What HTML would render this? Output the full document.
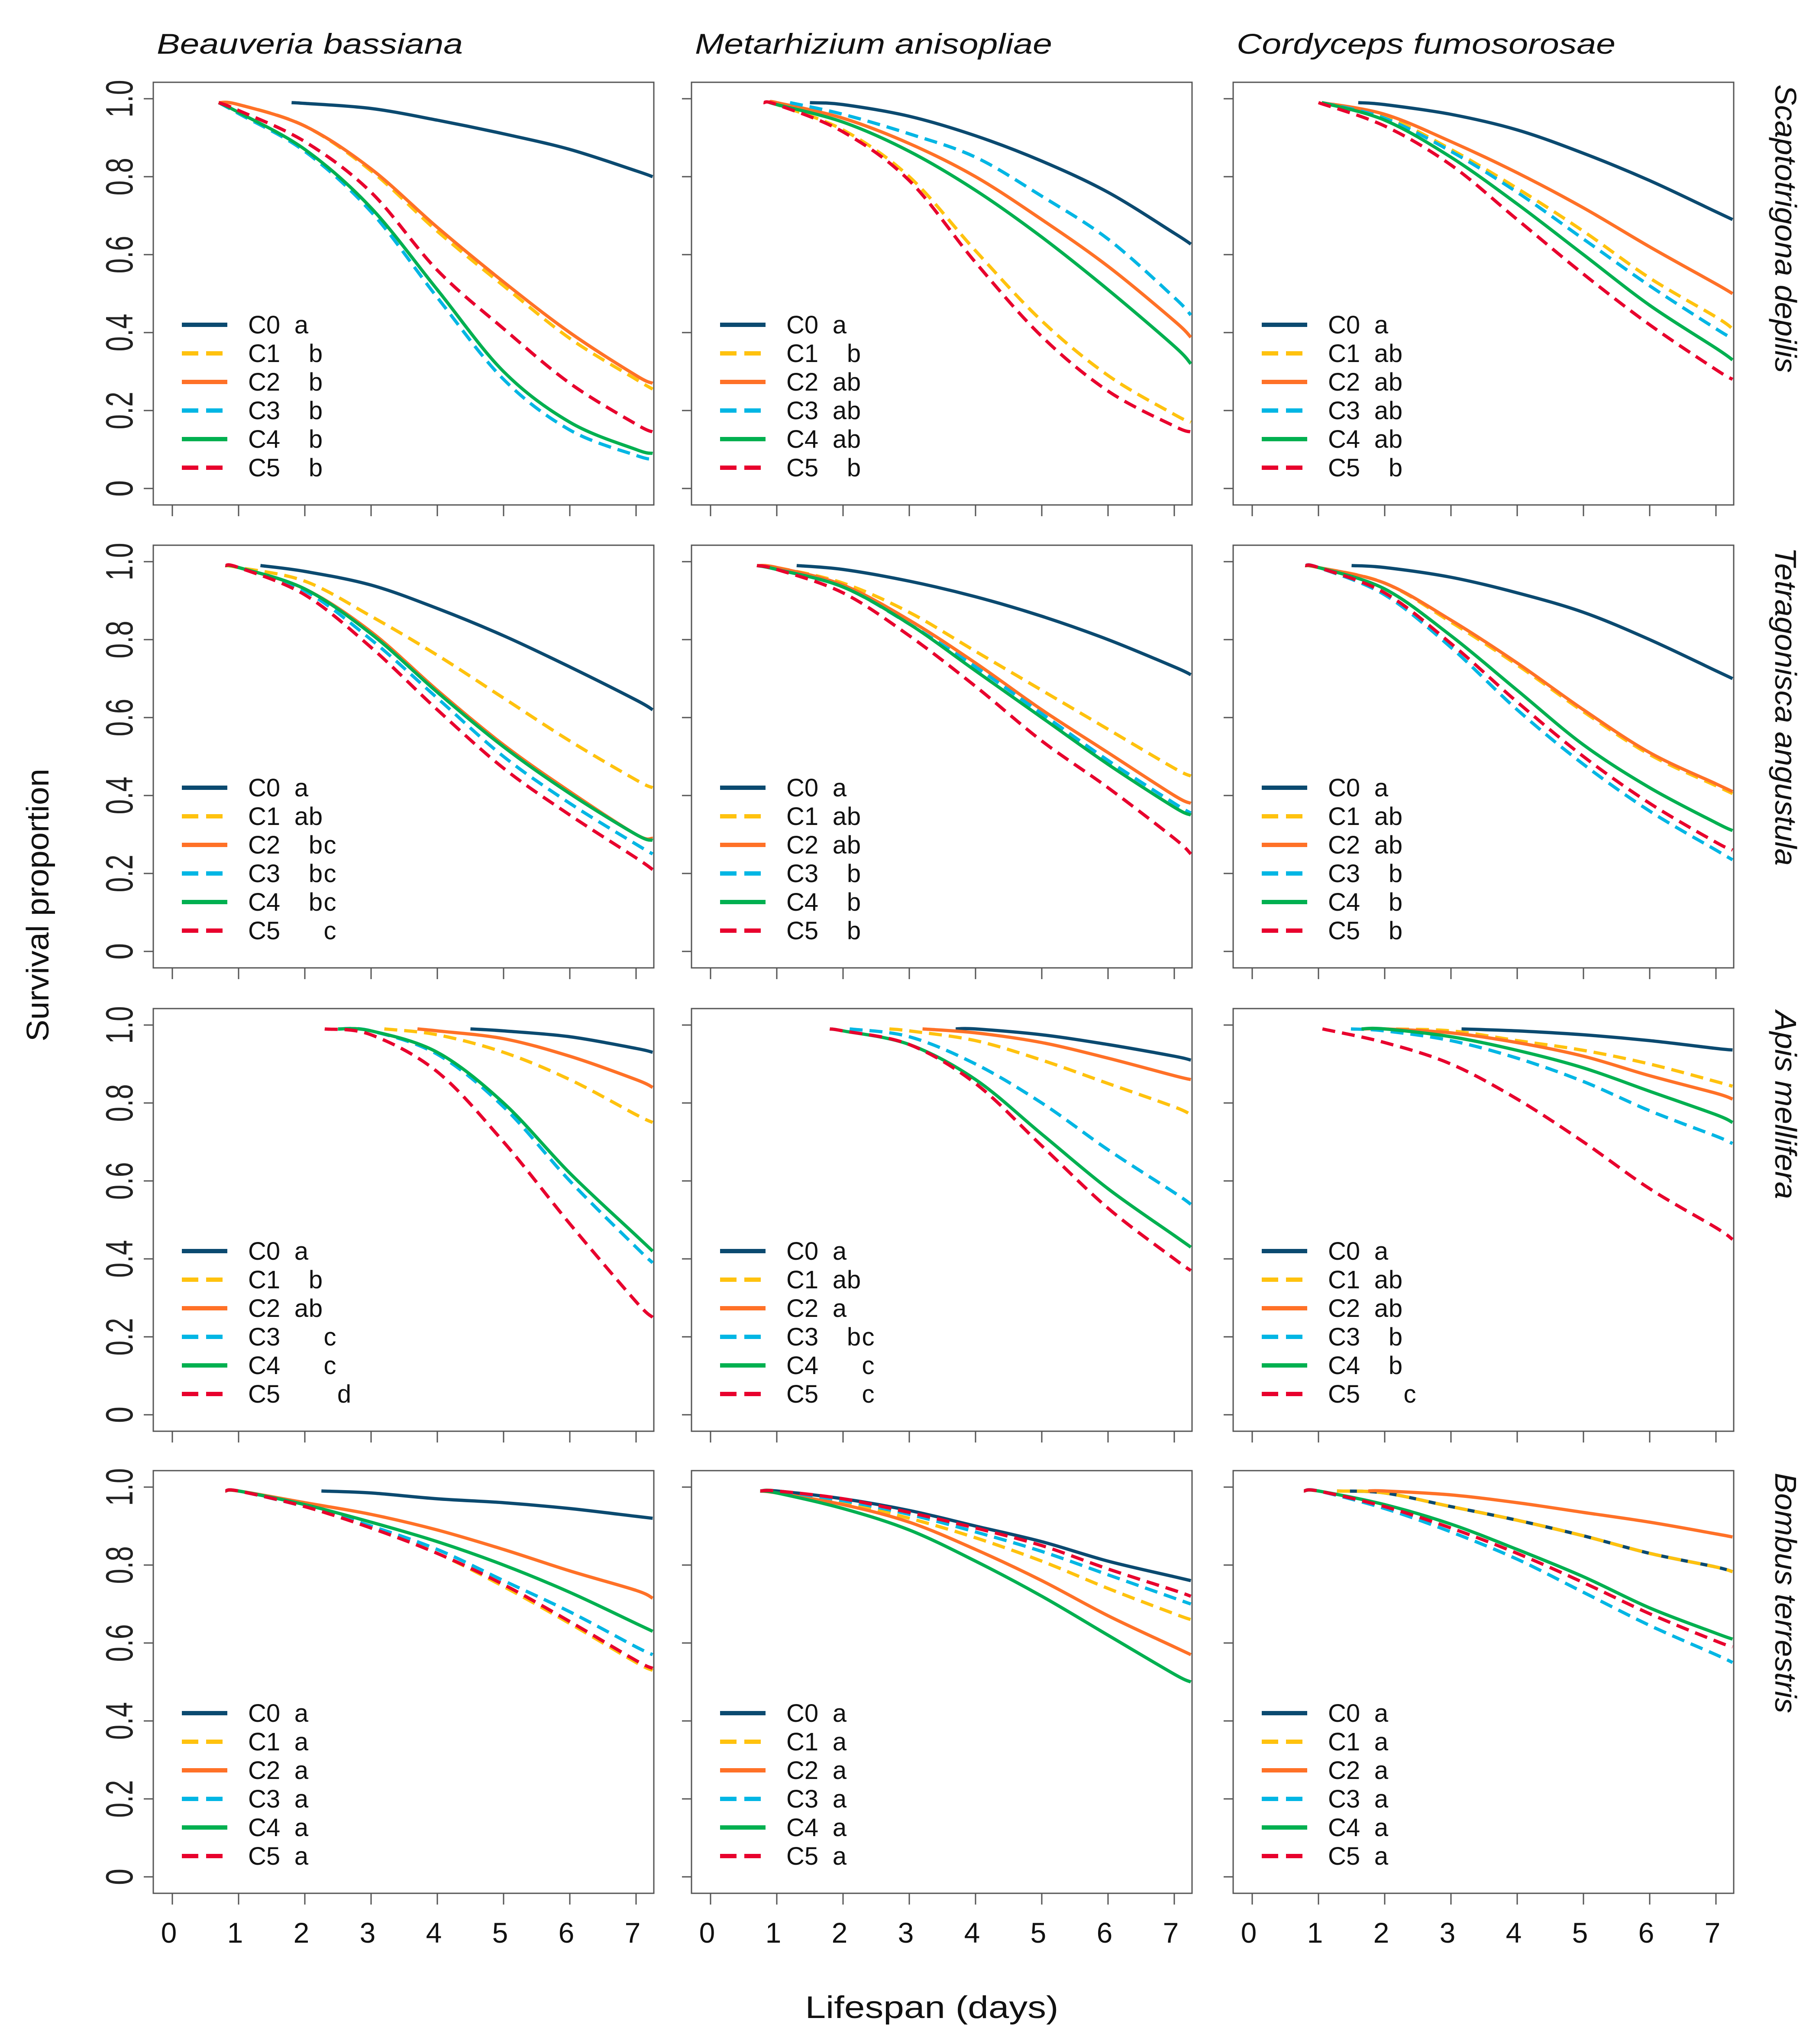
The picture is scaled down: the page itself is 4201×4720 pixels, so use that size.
<!DOCTYPE html>
<html><head><meta charset="utf-8"><style>html,body{margin:0;padding:0;background:#fff}svg{display:block}</style></head>
<body>
<svg id="chart" xmlns="http://www.w3.org/2000/svg" width="4201" height="4720" viewBox="0 0 4201 4720">
<rect width="4201" height="4720" fill="#fff"/>
</svg>
<script>
const gridDays = [1,2,3,4,5,6,7,7.25];
const xTicks = [0,1,2,3,4,5,6,7];
const yTicks = [0,0.2,0.4,0.6,0.8,1.0];
const yTickLabels = ["0","0.2","0.4","0.6","0.8","1.0"];
const seriesNames = ["C0","C1","C2","C3","C4","C5"];
const fungi = ["Beauveria bassiana","Metarhizium anisopliae","Cordyceps fumosorosae"];
const bees = ["Scaptotrigona depilis","Tetragonisca angustula","Apis mellifera","Bombus terrestris"];
const n = null;
// start days per panel (row-major)
const start_r1c1=[1.8,0.7,0.7,0.7,0.7,0.7];
const start_r1c2=[1.5,0.9,0.95,1.2,0.9,0.8];
const start_r1c3=[1.6,1.05,1.05,1.05,1.05,1.0];
const start_r2c1=[1.33,0.8,0.8,0.8,0.8,0.8];
const start_r2c2=[1.3,0.7,0.7,0.7,0.7,0.7];
const start_r2c3=[1.5,0.8,0.8,0.8,0.8,0.8];
const start_r3c1=[4.5,3.2,3.7,2.5,2.5,2.3];
const start_r3c2=[3.7,2.7,3.2,2.1,1.8,1.8];
const start_r3c3=[3.16,1.93,1.68,1.49,1.65,1.06];
const start_r4c1=[2.25,0.8,0.8,0.8,0.8,0.8];
const start_r4c2=[0.75,0.75,0.75,0.75,0.75,0.75];
const start_r4c3=[1.28,1.28,1.75,0.78,0.78,0.78];
// survival values at gridDays per series C0..C5
const surv_r1c1=[[n,.988,.975,.945,.91,.87,.815,.80],[.985,.93,.815,.66,.52,.385,.28,.255],[.985,.93,.82,.67,.53,.40,.29,.27],[.962,.865,.71,.49,.28,.15,.085,.075],[.965,.87,.72,.51,.30,.17,.10,.09],[.97,.89,.76,.56,.41,.27,.165,.145]];
const surv_r1c2=[[n,.985,.955,.905,.84,.76,.655,.627],[.985,.92,.80,.61,.43,.29,.19,.17],[.99,.95,.885,.80,.69,.57,.43,.388],[n,.96,.91,.85,.75,.64,.49,.445],[.985,.94,.865,.765,.645,.51,.365,.32],[.985,.915,.79,.58,.39,.25,.16,.145]];
const surv_r1c3=[[n,.985,.96,.92,.86,.79,.71,.69],[n,.955,.87,.77,.66,.54,.44,.41],[n,.96,.89,.81,.72,.62,.525,.50],[n,.95,.865,.76,.64,.52,.41,.385],[n,.945,.85,.73,.60,.47,.36,.33],[n,.93,.83,.69,.55,.42,.305,.28]];
const surv_r2c1=[[n,.975,.94,.88,.81,.73,.645,.62],[.985,.95,.86,.76,.65,.54,.44,.42],[.985,.93,.82,.67,.53,.41,.30,.29],[.985,.925,.80,.65,.50,.38,.275,.25],[.985,.93,.815,.665,.525,.405,.30,.285],[.985,.915,.78,.62,.47,.35,.24,.21]];
const surv_r2c2=[[n,.98,.95,.91,.86,.80,.73,.71],[.985,.945,.87,.77,.67,.57,.47,.45],[.985,.94,.85,.74,.62,.51,.40,.38],[.98,.935,.84,.73,.61,.49,.38,.355],[.98,.935,.84,.72,.60,.48,.37,.35],[.98,.92,.81,.68,.54,.42,.29,.25]];
const surv_r2c3=[[n,.985,.96,.92,.87,.80,.72,.70],[.985,.945,.845,.735,.615,.505,.425,.405],[.985,.945,.85,.74,.62,.51,.43,.41],[.985,.915,.78,.62,.48,.36,.26,.235],[.985,.93,.81,.67,.53,.42,.33,.31],[.985,.92,.79,.64,.50,.38,.28,.26]];
const surv_r3c1=[[n,n,n,n,.985,.97,.94,.93],[n,n,n,.975,.93,.86,.77,.75],[n,n,n,.985,.965,.92,.86,.84],[n,n,.985,.925,.79,.60,.43,.39],[n,n,.985,.93,.80,.62,.46,.42],[n,n,.975,.88,.70,.49,.29,.25]];
const surv_r3c2=[[n,n,n,.99,.975,.95,.92,.91],[n,n,.985,.96,.91,.85,.79,.77],[n,n,n,.98,.955,.915,.87,.86],[n,n,.97,.90,.80,.68,.57,.54],[n,.985,.95,.86,.72,.58,.46,.43],[n,.985,.95,.85,.69,.53,.40,.37]];
const surv_r3c3=[[n,n,n,.985,.975,.96,.94,.936],[n,.99,.985,.96,.935,.90,.855,.843],[n,.99,.98,.955,.92,.87,.825,.81],[n,.985,.96,.915,.855,.78,.715,.696],[n,.99,.97,.935,.89,.83,.77,.75],[n,.955,.90,.81,.70,.58,.48,.45]];
const surv_r4c1=[[n,n,.985,.97,.96,.945,.925,.92],[.99,.95,.895,.83,.745,.65,.55,.53],[.99,.96,.93,.89,.84,.785,.735,.715],[.99,.95,.90,.84,.76,.68,.59,.57],[.99,.955,.91,.86,.80,.73,.65,.63],[.99,.95,.895,.83,.75,.655,.555,.535]];
const surv_r4c2=[[.99,.97,.94,.90,.86,.81,.77,.76],[.99,.96,.92,.87,.81,.74,.675,.66],[.985,.955,.91,.84,.76,.67,.59,.57],[.99,.965,.93,.885,.835,.775,.715,.70],[.985,.945,.89,.81,.72,.62,.52,.50],[.99,.97,.935,.895,.85,.79,.735,.72]];
const surv_r4c3=[[n,.985,.95,.915,.875,.83,.795,.783],[n,.985,.95,.915,.875,.83,.795,.783],[n,.99,.98,.96,.935,.91,.88,.872],[.99,.945,.885,.815,.73,.645,.57,.55],[.99,.955,.905,.84,.77,.69,.625,.61],[.99,.95,.895,.83,.755,.675,.605,.59]];
// compact letter display per panel
const letters_r1c1=["a","b","b","b","b","b"];
const letters_r1c2=["a","b","ab","ab","ab","b"];
const letters_r1c3=["a","ab","ab","ab","ab","b"];
const letters_r2c1=["a","ab","bc","bc","bc","c"];
const letters_r2c2=["a","ab","ab","b","b","b"];
const letters_r2c3=["a","ab","ab","b","b","b"];
const letters_r3c1=["a","b","ab","c","c","d"];
const letters_r3c2=["a","ab","a","bc","c","c"];
const letters_r3c3=["a","ab","ab","b","b","c"];
const letters_r4c1=["a","a","a","a","a","a"];
const letters_r4c2=["a","a","a","a","a","a"];
const letters_r4c3=["a","a","a","a","a","a"];

const startAll=[[start_r1c1,start_r1c2,start_r1c3],[start_r2c1,start_r2c2,start_r2c3],[start_r3c1,start_r3c2,start_r3c3],[start_r4c1,start_r4c2,start_r4c3]];
const survAll=[[surv_r1c1,surv_r1c2,surv_r1c3],[surv_r2c1,surv_r2c2,surv_r2c3],[surv_r3c1,surv_r3c2,surv_r3c3],[surv_r4c1,surv_r4c2,surv_r4c3]];
const lettersAll=[[letters_r1c1,letters_r1c2,letters_r1c3],[letters_r2c1,letters_r2c2,letters_r2c3],[letters_r3c1,letters_r3c2,letters_r3c3],[letters_r4c1,letters_r4c2,letters_r4c3]];

const colors=["#0b4a70","#ffc20e","#ff7127","#00b6e4","#00b050","#e8002d"];
const dashed=[false,true,false,true,false,true];
const colLeft=[354,1597,2848], rowTop=[190,1259,2329,3396];
const PW=1156, PH=976;
const NS="http://www.w3.org/2000/svg";
const svg=document.getElementById('chart');
const FONT='"Liberation Sans", Arial, sans-serif';
function mk(tag,attrs,parent){const e=document.createElementNS(NS,tag);for(const k in attrs)e.setAttribute(k,attrs[k]);(parent||svg).appendChild(e);return e;}
function catmull(pts){let d=`M${pts[0][0].toFixed(1)},${pts[0][1].toFixed(1)}`;for(let i=0;i<pts.length-1;i++){const p0=pts[i-1]||pts[i],p1=pts[i],p2=pts[i+1],p3=pts[i+2]||p2;const c1=[p1[0]+(p2[0]-p0[0])/6,p1[1]+(p2[1]-p0[1])/6],c2=[p2[0]-(p3[0]-p1[0])/6,p2[1]-(p3[1]-p1[1])/6];d+=`C${c1[0].toFixed(1)},${c1[1].toFixed(1)} ${c2[0].toFixed(1)},${c2[1].toFixed(1)} ${p2[0].toFixed(1)},${p2[1].toFixed(1)}`;}return d;}

for(let r=0;r<4;r++){for(let c=0;c<3;c++){
  const L=colLeft[c], T=rowTop[r];
  const xs=d=>L+44+153*d, ys=v=>T+938-900*v;
  const g=mk('g',{});
  
  
  const box=mk('rect',{x:L,y:T,width:PW,height:PH,fill:'none',stroke:'#555',"stroke-width":3},g);
  
  
  yTicks.forEach((v,i)=>{const t=mk('line',{x1:L-22,x2:L,y1:ys(v),y2:ys(v),stroke:'#555',"stroke-width":3},g);
    
    
    if(c===0){const lab=yTickLabels[i];const tx=mk('text',{x:0,y:0,transform:`translate(306,${ys(v)}) rotate(-90)`,"text-anchor":"middle","font-family":FONT,"font-size":88,fill:'#222',textLength:lab.length===1?38:87,lengthAdjust:'spacingAndGlyphs'},g);tx.textContent=lab;
      
      }
  });
  xTicks.forEach(d=>{const t=mk('line',{x1:xs(d),x2:xs(d),y1:T+PH,y2:T+PH+26,stroke:'#555',"stroke-width":3},g);
    
    
    if(r===3){const tx=mk('text',{x:xs(d)-8,y:4486,"text-anchor":"middle","font-family":FONT,"font-size":66,fill:'#111'},g);tx.textContent=String(d);
      
      }
  });
  const st=startAll[r][c], sv=survAll[r][c], le=lettersAll[r][c];
  for(let s=0;s<6;s++){
    const pts=[[xs(st[s]),ys(0.99)]];
    gridDays.forEach((d,i)=>{if(sv[s][i]!==null&&d>st[s])pts.push([xs(d),ys(sv[s][i])]);});
    const p=mk('path',{d:catmull(pts),fill:'none',stroke:colors[s],"stroke-width":7.5,"stroke-linejoin":'round'},g);
    if(dashed[s])p.setAttribute('stroke-dasharray','30 16');
    
    
    const ly=T+560+66*s;
    const ll=mk('line',{x1:L+66,x2:L+171,y1:ly,y2:ly,stroke:colors[s],"stroke-width":10},g);
    if(dashed[s])ll.setAttribute('stroke-dasharray','38 18');
    
    
    const lt=mk('text',{x:L+219,y:ly+20,"font-family":FONT,"font-size":58,fill:'#111'},g);lt.textContent=seriesNames[s];
    
    
    for(const ch of le[s]){const k=ch.charCodeAt(0)-97;const gt=mk('text',{x:L+342+33*k,y:ly+20,"text-anchor":"middle","font-family":FONT,"font-size":58,fill:'#111'},g);gt.textContent=ch;
      
      }
  }
}}
const titleLens=[707,825,875];
fungi.forEach((f,c)=>{const t=mk('text',{x:colLeft[c]+8,y:124,"font-family":FONT,"font-size":66,"font-style":'italic',fill:'#111',textLength:titleLens[c],lengthAdjust:'spacingAndGlyphs'});t.textContent=f;
  
  });
const beeLens=[666,735,435,555];
bees.forEach((b,r)=>{const t=mk('text',{x:0,y:0,transform:`translate(4100,${rowTop[r]+5}) rotate(90)`,"font-family":FONT,"font-size":70,"font-style":'italic',fill:'#111',textLength:beeLens[r],lengthAdjust:'spacingAndGlyphs'});t.textContent=b;
  
  });
const yt=mk('text',{x:0,y:0,transform:'translate(112,2090) rotate(-90)',"text-anchor":"middle","font-family":FONT,"font-size":72,fill:'#111',textLength:630,lengthAdjust:'spacingAndGlyphs'});yt.textContent='Survival proportion';


const xt=mk('text',{x:2152,y:4660,"text-anchor":"middle","font-family":FONT,"font-size":72,fill:'#111',textLength:585,lengthAdjust:'spacingAndGlyphs'});xt.textContent='Lifespan (days)';


</script>
</body></html>
